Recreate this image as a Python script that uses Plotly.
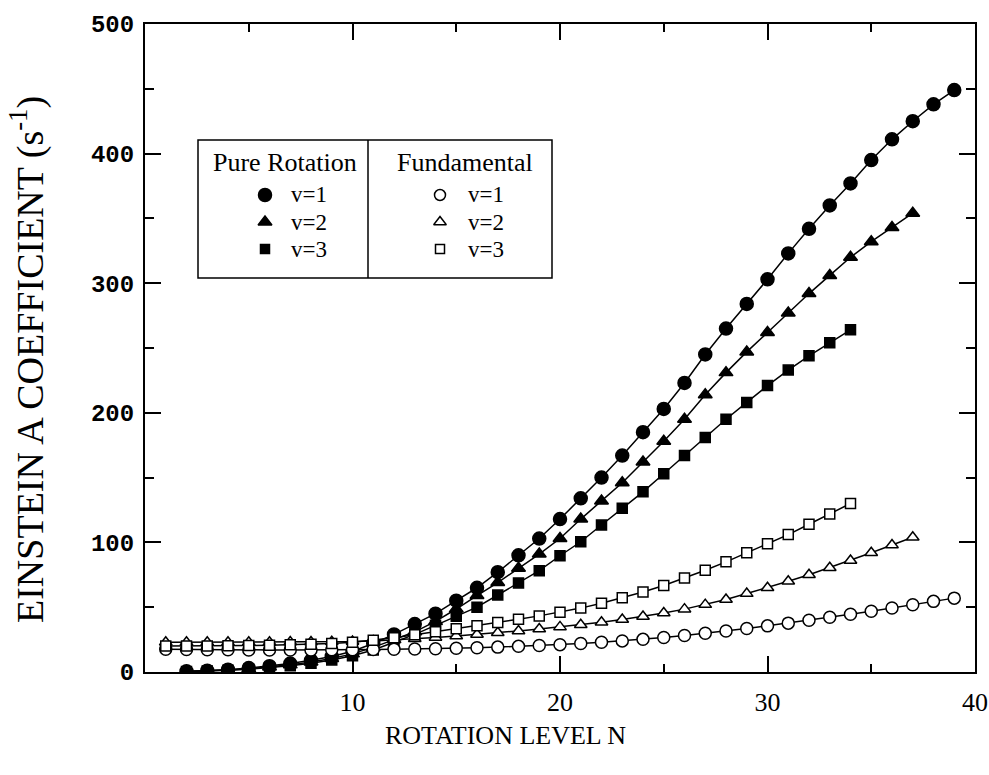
import plotly.graph_objects as go

# ---------------- data ----------------
N_pr1 = list(range(2, 40))
pure_v1 = [0.5, 1.0, 1.8, 3.0, 4.5, 6.5, 9, 12, 16, 22, 29, 37, 45, 55, 65, 77, 90, 103,
           118, 134, 150, 167, 185, 203, 223, 245, 265, 284, 303, 323, 342, 360, 377,
           395, 411, 425, 438, 449]
N_pr2 = list(range(2, 38))
pure_v2 = [0.4, 0.8, 1.5, 2.5, 3.8, 5.5, 7.8, 10.5, 14, 19, 25, 31, 39, 48.6, 59, 69,
           80, 91, 103, 118, 132, 146, 162, 178, 195, 214, 231, 247, 262, 277, 292,
           306, 320, 332, 343, 354]
N_pr3 = list(range(2, 35))
pure_v3 = [0.3, 0.7, 1.3, 2.2, 3.3, 4.8, 6.8, 9.3, 12.5, 17, 23, 29, 36, 43, 50, 59.4,
           68.7, 78.2, 89.7, 100.5, 113.4, 126.3, 139, 153, 167, 181, 195, 208, 221,
           233, 244, 254, 264]

N_f1 = list(range(1, 40))
fund_v1 = [17.5, 17.3, 17.2, 17.1, 17.0, 17.0, 17.0, 17.0, 17.1, 17.2, 17.4, 17.6,
           17.8, 18.0, 18.3, 18.7, 19.2, 19.8, 20.4, 21.1, 22.0, 22.9, 24.0, 25.2,
           26.6, 28.2, 29.9, 31.7, 33.6, 35.6, 37.7, 39.9, 42.2, 44.5, 46.9, 49.4,
           51.9, 54.5, 57.0]
N_f2 = list(range(1, 38))
fund_v2 = [23, 23, 23, 23, 23, 23, 23.1, 23.2, 23.3, 23.5, 24, 24.8, 25.7, 26.7, 27.8,
           29, 30.3, 31.7, 33.2, 34.8, 36.5, 38.4, 40.5, 42.8, 45.5, 48.5, 52, 56,
           60.5, 65, 70, 75, 80.5, 86, 92, 98, 104]
N_f3 = list(range(1, 35))
fund_v3 = [20, 20, 20, 20.2, 20.4, 20.7, 21, 21.5, 22, 23, 24.5, 26.5, 28.7, 31, 33.3,
           35.7, 38.2, 40.7, 43.3, 46.1, 49.3, 53, 57.2, 61.8, 66.8, 72.5, 78.5, 85,
           92, 99, 106, 114, 122, 130]

x_ticks = [10, 20, 30, 40]
y_ticks = [0, 100, 200, 300, 400, 500]
legend_labels = ["v=1", "v=2", "v=3"]
group_titles = ["Pure Rotation", "Fundamental"]
x_title = "ROTATION LEVEL N"
y_title = "EINSTEIN A COEFFICIENT (s<sup>-1</sup>)"

# ---------------- styling ----------------
serif = "Liberation Serif"
W, H = 989, 775
L, R, T, B = 145, 14, 24, 103
PW, PH = W - L - R, H - T - B


def px2x(px):
    return (px - L) / PW


def px2y(py):
    return (H - B - py) / PH


# (x, y, symbol, size, fill) for each series
series = [
    (N_pr1, pure_v1, "circle", 13, "black"),
    (N_pr2, pure_v2, "triangle-up", 12, "black"),
    (N_pr3, pure_v3, "square", 10, "black"),
    (N_f1, fund_v1, "circle", 12, "white"),
    (N_f2, fund_v2, "triangle-up", 11, "white"),
    (N_f3, fund_v3, "square", 10, "white"),
]

fig = go.Figure()
for xs, ys, sym, sz, fill in series:
    fig.add_trace(go.Scatter(x=xs, y=ys, mode="lines", showlegend=False,
                             line=dict(color="black", width=1.5), hoverinfo="skip"))
for xs, ys, sym, sz, fill in series:
    fig.add_trace(go.Scatter(x=xs, y=ys, mode="markers", showlegend=False,
                             marker=dict(symbol=sym, size=sz, color=fill,
                                         line=dict(color="black", width=1.5))))

# legend key symbols (drawn in a hidden 0..1 overlay axis)
key_rows_px = [195, 222, 249]
key_cols_px = [265, 440]
key_syms = [("circle", 13, 11), ("triangle-up", 12, 11), ("square", 9, 9)]
for ci, fill in enumerate(["black", "white"]):
    for ri, (sym, sz_f, sz_o) in enumerate(key_syms):
        fig.add_trace(go.Scatter(
            x=[px2x(key_cols_px[ci])], y=[px2y(key_rows_px[ri])],
            xaxis="x2", yaxis="y2", mode="markers", showlegend=False,
            hoverinfo="skip",
            marker=dict(symbol=sym, size=sz_f if ci == 0 else sz_o, color=fill,
                        line=dict(color="black", width=1.5))))

axis_common = dict(ticks="inside", ticklen=16, tickwidth=1.5, tickcolor="black",
                   showline=True, linecolor="black", linewidth=2, mirror="ticks",
                   showgrid=False, zeroline=False, automargin=False)

fig.update_layout(
    width=W, height=H,
    margin=dict(l=L, r=R, t=T, b=B),
    paper_bgcolor="white", plot_bgcolor="white",
    font=dict(family=serif, color="black"),
    showlegend=False,
    xaxis=dict(range=[0, 40], tickvals=x_ticks, ticklabelstandoff=6,
               tickfont=dict(family=serif, size=26),
               minor=dict(dtick=5, tick0=0, ticks="inside", ticklen=8,
                          tickcolor="black", tickwidth=1.5, showgrid=False),
               **axis_common),
    yaxis=dict(range=[0, 500], tickvals=y_ticks, ticklabelstandoff=4,
               tickfont=dict(family="Liberation Mono", size=24, weight="bold"),
               minor=dict(dtick=50, tick0=0, ticks="inside", ticklen=9,
                          tickcolor="black", tickwidth=1.5, showgrid=False),
               **axis_common),
    xaxis2=dict(range=[0, 1], overlaying="x", visible=False, fixedrange=True),
    yaxis2=dict(range=[0, 1], overlaying="y", visible=False, fixedrange=True),
)

# legend frame
box_l, box_r, box_t, box_b, box_mid = 198, 552, 140, 278, 368
fig.add_shape(type="rect", xref="paper", yref="paper",
              x0=px2x(box_l), x1=px2x(box_r), y0=px2y(box_b), y1=px2y(box_t),
              line=dict(color="black", width=1.5))
fig.add_shape(type="line", xref="paper", yref="paper",
              x0=px2x(box_mid), x1=px2x(box_mid), y0=px2y(box_b), y1=px2y(box_t),
              line=dict(color="black", width=1.5))

for title, cx in zip(group_titles, [285, 465]):
    fig.add_annotation(x=px2x(cx), y=px2y(163), xref="paper", yref="paper",
                       text=title, showarrow=False, xanchor="center", yanchor="middle",
                       font=dict(family=serif, size=26))

for ci, tx in enumerate([290, 467]):
    for ri, lab in enumerate(legend_labels):
        fig.add_annotation(x=px2x(tx), y=px2y(key_rows_px[ri]), xref="paper",
                           yref="paper", text=lab, showarrow=False,
                           xanchor="left", yanchor="middle", borderpad=0,
                           font=dict(family=serif, size=23))

# axis titles
fig.add_annotation(x=px2x(505), y=px2y(735), xref="paper", yref="paper",
                   text=x_title, showarrow=False, xanchor="center", yanchor="middle",
                   font=dict(family=serif, size=26))
fig.add_annotation(x=px2x(27), y=px2y(360), xref="paper", yref="paper",
                   text=y_title, showarrow=False, textangle=-90,
                   xanchor="center", yanchor="middle",
                   font=dict(family=serif, size=38))

fig.write_html("out.html")
